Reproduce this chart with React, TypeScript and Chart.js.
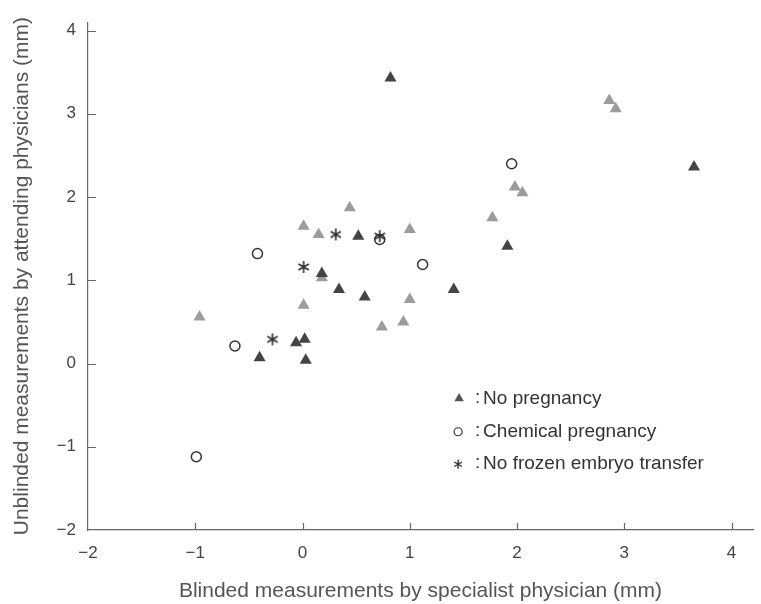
import React, { useEffect, useRef } from "react";
import { Chart, registerables } from "chart.js";

Chart.register(...registerables);

// ---- Data ----
const X_TICKS = [-2, -1, 0, 1, 2, 3, 4];
const Y_TICKS = [-2, -1, 0, 1, 2, 3, 4];

const noPregDarkX = [0.82, 3.65, 0.52, 0.18, 0.34, 0.58, 1.91, 1.41, -0.06, 0.02, -0.4, 0.03];
const noPregDarkY = [3.43, 2.36, 1.53, 1.08, 0.89, 0.8, 1.41, 0.89, 0.25, 0.29, 0.07, 0.04];

const noPregLightX = [2.86, 2.92, 1.98, 2.05, 1.77, 1.0, 0.44, 0.01, 0.15, 0.18, 0.01, -0.96, 1.0, 0.74, 0.94];
const noPregLightY = [3.16, 3.06, 2.12, 2.05, 1.75, 1.61, 1.87, 1.65, 1.55, 1.03, 0.7, 0.56, 0.77, 0.44, 0.5];

const chemPregX = [1.95, 1.12, 0.72, -0.42, -0.63, -0.99];
const chemPregY = [2.4, 1.19, 1.49, 1.32, 0.21, -1.12];

const noTransferX = [0.31, 0.72, 0.01, -0.28];
const noTransferY = [1.55, 1.53, 1.16, 0.29];

const LEGEND_LABELS = ["No pregnancy", "Chemical pregnancy", "No frozen embryo transfer"];

const X_TITLE = "Blinded measurements by specialist physician (mm)";
const Y_TITLE = "Unblinded measurements by attending physicians (mm)";

const FONT = "'Liberation Sans', Arial, sans-serif";

function zip(xs: number[], ys: number[]) {
  return xs.map((x, i) => ({ x, y: ys[i] }));
}

function drawAsterisk(ctx: CanvasRenderingContext2D, cx: number, cy: number, r: number, lw: number, color: string) {
  ctx.save();
  ctx.strokeStyle = color;
  ctx.lineWidth = lw;
  ctx.lineCap = "butt";
  ctx.beginPath();
  for (let k = 0; k < 3; k++) {
    const a = Math.PI / 2 + (k * Math.PI) / 3;
    const dx = Math.cos(a) * r;
    const dy = Math.sin(a) * r;
    ctx.moveTo(cx - dx, cy - dy);
    ctx.lineTo(cx + dx, cy + dy);
  }
  ctx.stroke();
  ctx.restore();
}

function makeAsteriskCanvas(size: number, r: number, lw: number, color: string) {
  const c = document.createElement("canvas");
  c.width = size;
  c.height = size;
  const ctx = c.getContext("2d")!;
  drawAsterisk(ctx, size / 2, size / 2, r, lw, color);
  return c;
}

function fmt(v: number) {
  return v < 0 ? "\u2212" + Math.abs(v) : String(v);
}

export default function App() {
  const ref = useRef<HTMLCanvasElement | null>(null);

  useEffect(() => {
    document.body.style.margin = "0";
    const canvas = ref.current!;
    const asterisk = makeAsteriskCanvas(16, 6, 1.6, "#2f2f2f");

    const tickPlugin = {
      id: "inwardTicks",
      afterDraw(chart: any) {
        const ctx = chart.ctx as CanvasRenderingContext2D;
        const xs = chart.scales.x;
        const ys = chart.scales.y;
        const { left, bottom } = chart.chartArea;
        ctx.save();
        ctx.strokeStyle = "#666";
        ctx.lineWidth = 1.2;
        ctx.beginPath();
        X_TICKS.forEach((v) => {
          if (v === -2) return;
          const px = Math.round(xs.getPixelForValue(v)) + 0.5;
          ctx.moveTo(px, bottom);
          ctx.lineTo(px, bottom - 7);
        });
        Y_TICKS.forEach((v) => {
          if (v === -2) return;
          const py = Math.round(ys.getPixelForValue(v)) + 0.5;
          ctx.moveTo(left, py);
          ctx.lineTo(left + 8, py);
        });
        ctx.stroke();
        ctx.restore();
      },
    };

    const legendPlugin = {
      id: "customLegend",
      afterDatasetsDraw(chart: any) {
        const ctx = chart.ctx as CanvasRenderingContext2D;
        const xs = chart.scales.x;
        const ys = chart.scales.y;
        const mx = xs.getPixelForValue(1.46);
        const colonX = mx + 16;
        const textX = mx + 24;
        const rows = [ys.getPixelForValue(-0.42), ys.getPixelForValue(-0.82), ys.getPixelForValue(-1.21)];
        ctx.save();
        // triangle
        const r = 5.5;
        ctx.fillStyle = "#555";
        ctx.beginPath();
        ctx.moveTo(mx, rows[0] - r);
        ctx.lineTo(mx + r * 0.866, rows[0] + r / 2);
        ctx.lineTo(mx - r * 0.866, rows[0] + r / 2);
        ctx.closePath();
        ctx.fill();
        // circle
        ctx.strokeStyle = "#333";
        ctx.lineWidth = 1.2;
        ctx.beginPath();
        ctx.arc(mx - 1, rows[1], 4, 0, Math.PI * 2);
        ctx.stroke();
        // asterisk
        drawAsterisk(ctx, mx - 1, rows[2], 4.5, 1.4, "#333");
        ctx.fillStyle = "#333";
        ctx.font = `19px ${FONT}`;
        ctx.textBaseline = "middle";
        ctx.textAlign = "left";
        rows.forEach((ry, i) => {
          ctx.fillText(":", colonX, ry - 1);
          ctx.fillText(LEGEND_LABELS[i], textX, ry);
        });
        ctx.restore();
      },
    };

    const chart = new Chart(canvas, {
      type: "scatter",
      data: {
        datasets: [
          {
            label: LEGEND_LABELS[2],
            data: zip(noTransferX, noTransferY),
            pointStyle: asterisk as any,
            pointRadius: 7,
            order: 0,
          },
          {
            label: LEGEND_LABELS[1],
            data: zip(chemPregX, chemPregY),
            pointStyle: "circle",
            pointRadius: 5,
            borderWidth: 1.5,
            borderColor: "#333",
            backgroundColor: "rgba(255,255,255,0)",
            order: 1,
          },
          {
            label: LEGEND_LABELS[0],
            data: zip(noPregDarkX, noPregDarkY),
            pointStyle: "triangle",
            pointRadius: 7,
            borderWidth: 0,
            backgroundColor: "#444",
            borderColor: "#444",
            order: 2,
          },
          {
            label: LEGEND_LABELS[0] + " (light)",
            data: zip(noPregLightX, noPregLightY),
            pointStyle: "triangle",
            pointRadius: 7,
            borderWidth: 0,
            backgroundColor: "#9c9c9c",
            borderColor: "#9c9c9c",
            order: 3,
          },
        ],
      },
      options: {
        responsive: false,
        animation: false,
        devicePixelRatio: 1,
        layout: { padding: { top: 18, right: 2, left: 0, bottom: 0 } },
        plugins: {
          legend: { display: false },
          tooltip: { enabled: false },
        },
        scales: {
          x: {
            type: "linear",
            position: "bottom",
            min: -2,
            max: 4.2,
            afterBuildTicks: (s: any) => {
              s.ticks = X_TICKS.map((v) => ({ value: v }));
            },
            afterFit: (s: any) => {
              s.height = 74;
            },
            grid: { display: false, drawTicks: false },
            border: { display: true, color: "#666", width: 1.2 },
            ticks: {
              padding: 13,
              color: "#444",
              font: { family: FONT, size: 17 },
              callback: (v: any) => fmt(Number(v)),
              maxRotation: 0,
            },
            title: {
              display: true,
              text: X_TITLE,
              color: "#555",
              font: { family: FONT, size: 21 },
              padding: { top: 0, bottom: 0 },
            },
          },
          y: {
            type: "linear",
            min: -2,
            max: 4.1,
            afterBuildTicks: (s: any) => {
              s.ticks = Y_TICKS.map((v) => ({ value: v }));
            },
            afterFit: (s: any) => {
              s.width = 88;
            },
            grid: { display: false, drawTicks: false },
            border: { display: true, color: "#666", width: 1.2 },
            ticks: {
              padding: 12,
              color: "#444",
              font: { family: FONT, size: 17 },
              callback: (v: any) => fmt(Number(v)),
            },
            title: {
              display: true,
              text: Y_TITLE,
              color: "#555",
              font: { family: FONT, size: 21 },
              padding: { top: 10, bottom: 0 },
            },
          },
        },
      },
      plugins: [tickPlugin, legendPlugin],
    } as any);

    return () => {
      chart.destroy();
    };
  }, []);

  return (
    <div style={{ width: 761, height: 604 }}>
      <canvas ref={ref} width={761} height={604} style={{ display: "block", width: 761, height: 604 }} />
    </div>
  );
}
